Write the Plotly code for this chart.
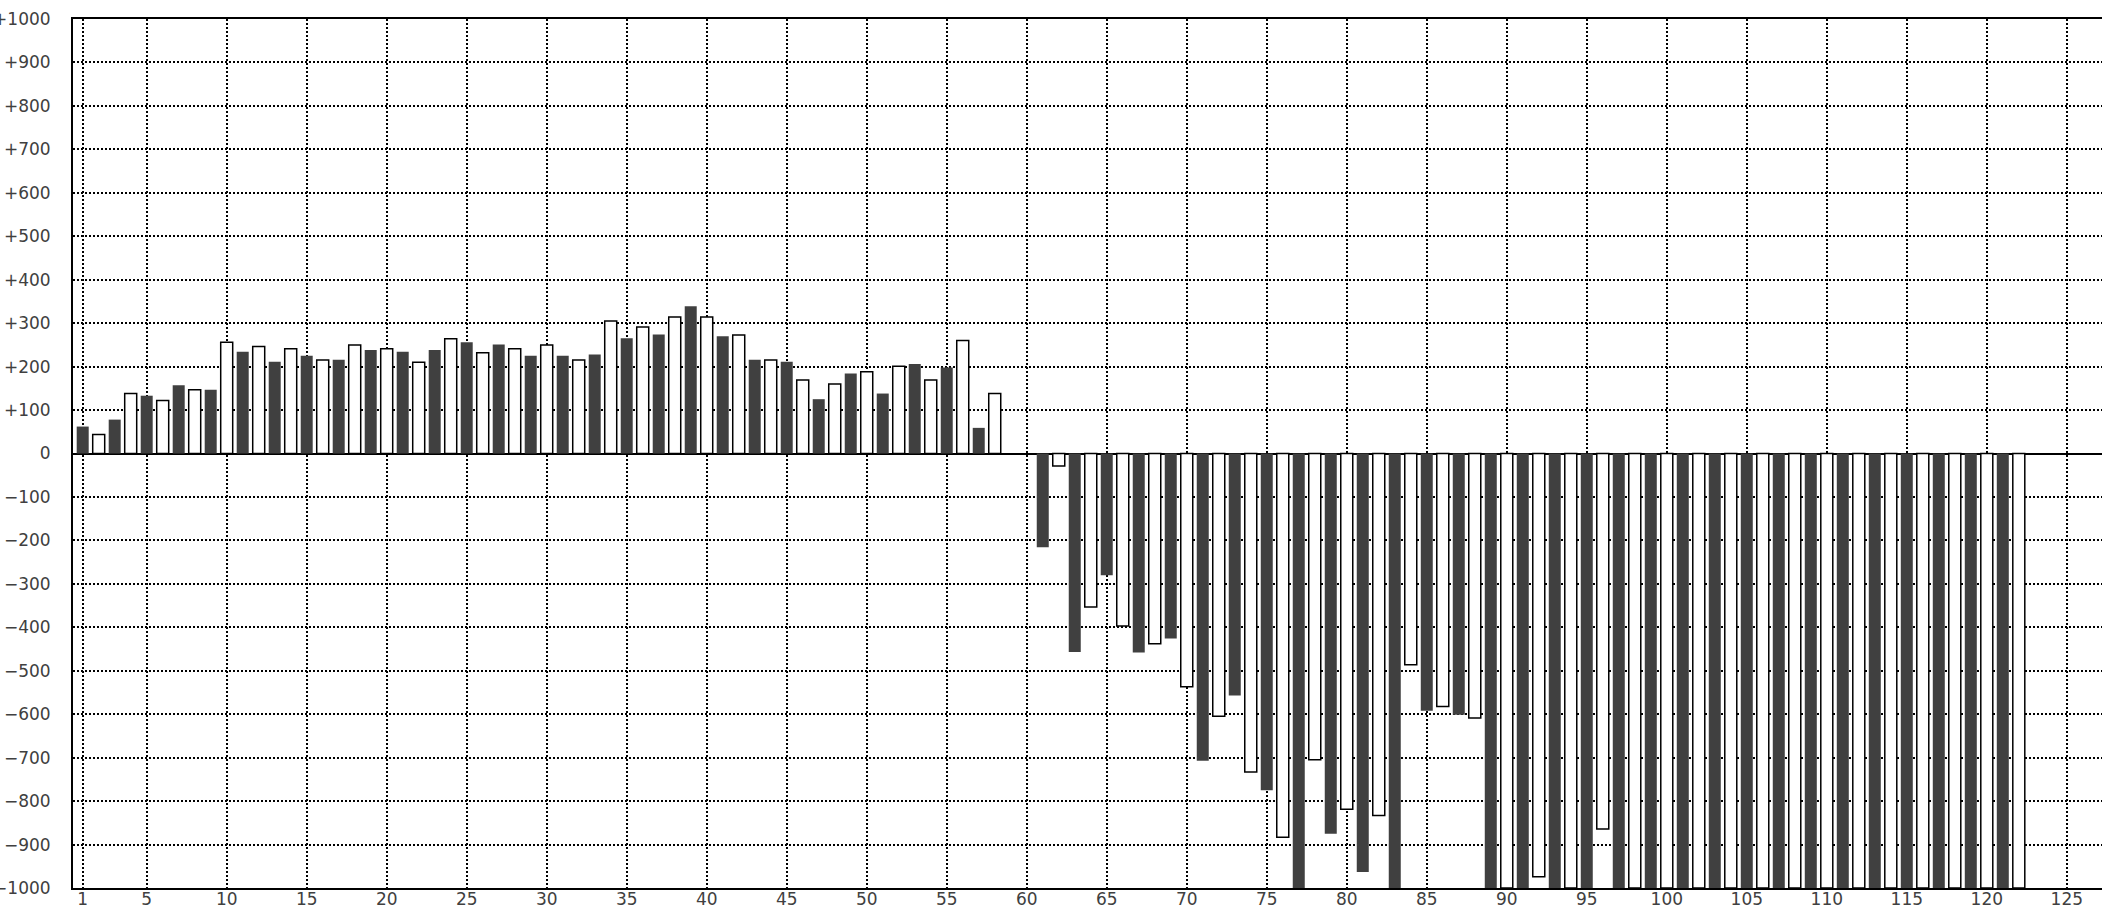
import plotly.graph_objects as go

# Dark bars at odd positions, white (outlined) bars at even positions
dark_x = list(range(1, 122, 2))
dark_values = [62, 78, 133, 157, 147, 234, 211, 225, 216, 238,
               234, 238, 256, 251, 225, 225, 228, 265, 274, 339,
               270, 216, 211, 125, 184, 138, 206, 198, 59, None,
               -216, -457, -280, -458, -426, -707, -557, -775, -1000, -875,
               -963, -1000, -592, -601, -1000, -1000, -1000, -1000, -1000, -1000,
               -1000, -1000, -1000, -1000, -1000, -1000, -1000, -1000, -1000, -1000,
               -1000]

white_x = list(range(2, 123, 2))
white_values = [44, 138, 122, 147, 256, 246, 241, 215, 250, 241,
                210, 264, 232, 241, 250, 215, 305, 291, 314, 314,
                273, 215, 169, 160, 188, 201, 169, 260, 138, None,
                -29, -353, -397, -438, -537, -605, -733, -883, -705, -819,
                -833, -486, -582, -609, -1000, -974, -1000, -864, -1000, -1000,
                -1000, -1000, -1000, -1000, -1000, -1000, -1000, -1000, -1000, -1000,
                -1000]

x_tick_vals = [1, 5, 10, 15, 20, 25, 30, 35, 40, 45, 50, 55, 60, 65, 70, 75,
               80, 85, 90, 95, 100, 105, 110, 115, 120, 125]
y_tick_vals = list(range(-1000, 1001, 100))
y_tick_text = [("+" + str(v)) if v > 0 else ("0" if v == 0 else "\u2212" + str(-v))
               for v in y_tick_vals]

fig = go.Figure()
fig.add_trace(go.Bar(x=dark_x, y=dark_values, width=0.75,
                     marker=dict(color="#404040", line=dict(width=0)),
                     showlegend=False))
fig.add_trace(go.Bar(x=white_x, y=white_values, width=0.75,
                     marker=dict(color="#ffffff", line=dict(color="#000000", width=1.5)),
                     showlegend=False))

fig.update_layout(
    width=2102, height=910,
    margin=dict(l=73, r=0, t=19, b=22, pad=0),
    paper_bgcolor="white", plot_bgcolor="white",
    barmode="overlay",
    font=dict(family="DejaVu Sans", size=17, color="#404040"),
    xaxis=dict(range=[0.394, 127.2], tickvals=x_tick_vals, automargin=False,
               showgrid=True, gridcolor="#000000", gridwidth=2, griddash="2px,2px",
               showline=True, linecolor="#000000", linewidth=2, mirror=True,
               zeroline=False, ticks="", ticklabelstandoff=-5,
               tickfont=dict(family="DejaVu Sans", size=17, color="#404040")),
    yaxis=dict(range=[-1000, 1000], tickvals=y_tick_vals, ticktext=y_tick_text,
               automargin=False,
               showgrid=True, gridcolor="#000000", gridwidth=2, griddash="2px,2px",
               showline=True, linecolor="#000000", linewidth=2, mirror=False,
               zeroline=True, zerolinecolor="#000000", zerolinewidth=2,
               ticks="", ticklabelstandoff=17,
               tickfont=dict(family="DejaVu Sans", size=17, color="#404040")),
)

fig.write_html("out.html",
               config={"displayModeBar": False},
               post_script="document.body.style.margin='0';document.body.style.overflow='hidden';")
